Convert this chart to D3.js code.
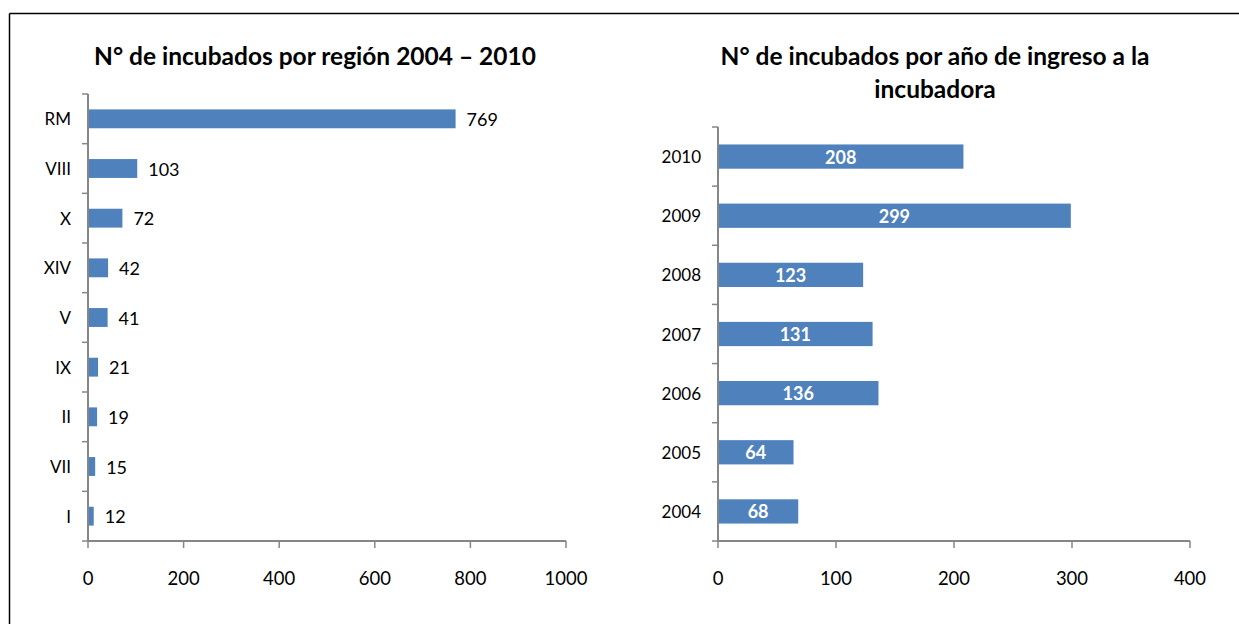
<!DOCTYPE html>
<html><head><meta charset="utf-8">
<script src="https://cdn.jsdelivr.net/npm/d3@7"></script>
<style>
html,body{margin:0;padding:0;background:#fff;}
svg{display:block;font-family:Lato,"Open Sans",sans-serif;}
</style></head>
<body>
<svg id="c" width="1239" height="624"></svg>
<script>
const regions = ["RM","VIII","X","XIV","V","IX","II","VII","I"];
const regionValues = [769,103,72,42,41,21,19,15,12];
const regionTicks = [0,200,400,600,800,1000];
const years = ["2010","2009","2008","2007","2006","2005","2004"];
const yearValues = [208,299,123,131,136,64,68];
const yearTicks = [0,100,200,300,400];
const title1 = "N° de incubados por región 2004 – 2010";
const title2 = ["N° de incubados por año de ingreso a la","incubadora"];

const svg = d3.select("#c");
const barColor = "#4F81BD", axisColor = "#868686";

// frame
svg.append("line").attr("x1",9.5).attr("x2",1239).attr("y1",13.5).attr("y2",13.5).attr("stroke","#000").attr("stroke-width",1.5);
svg.append("line").attr("x1",9.5).attr("x2",9.5).attr("y1",13.5).attr("y2",624).attr("stroke","#000").attr("stroke-width",1.5);

function chart(opt){
  const g = svg.append("g");
  const x = d3.scaleLinear().domain(opt.domain).range([opt.x0, opt.x1]);
  const y = d3.scaleBand().domain(opt.cats).range([opt.y0, opt.y1]).paddingInner(opt.pad).paddingOuter(opt.pad/2);
  const yb = d3.scaleBand().domain(opt.cats).range([opt.y0, opt.y1]);
  // bars
  g.selectAll("rect.bar").data(opt.cats).join("rect")
    .attr("x", x(0)).attr("y", d=>y(d))
    .attr("width", (d,i)=>x(opt.vals[i])-x(0)).attr("height", y.bandwidth())
    .attr("fill", barColor);
  // labels
  if(opt.inside){
    g.selectAll("text.val").data(opt.cats).join("text")
      .attr("x",(d,i)=>(x(0)+x(opt.vals[i]))/2).attr("y",d=>y(d)+y.bandwidth()/2)
      .attr("text-anchor","middle").attr("dominant-baseline","central")
      .attr("fill","#fff").attr("font-weight","bold").attr("font-size",18)
      .text((d,i)=>opt.vals[i]);
  } else {
    g.selectAll("text.val").data(opt.cats).join("text")
      .attr("x",(d,i)=>x(opt.vals[i])+11).attr("y",d=>y(d)+y.bandwidth()/2)
      .attr("text-anchor","start").attr("dominant-baseline","central")
      .attr("fill","#000").attr("font-size",18)
      .text((d,i)=>opt.vals[i]);
  }
  // y axis
  g.append("line").attr("x1",x(0)).attr("x2",x(0)).attr("y1",opt.y0).attr("y2",opt.y1).attr("stroke",axisColor).attr("stroke-width",2);
  const bounds = opt.cats.map(d=>yb(d)).concat([opt.y1]);
  g.selectAll("line.yt").data(bounds).join("line")
    .attr("x1",x(0)-6).attr("x2",x(0)).attr("y1",d=>d).attr("y2",d=>d).attr("stroke",axisColor).attr("stroke-width",1.5);
  g.selectAll("text.yl").data(opt.cats).join("text")
    .attr("x",x(0)-17).attr("y",d=>yb(d)+yb.bandwidth()/2)
    .attr("text-anchor","end").attr("dominant-baseline","central")
    .attr("font-size",17).attr("fill","#000").text(d=>d);
  // x axis
  g.append("line").attr("x1",x(0)).attr("x2",opt.x1).attr("y1",opt.y1).attr("y2",opt.y1).attr("stroke",axisColor).attr("stroke-width",2);
  g.selectAll("line.xt").data(opt.ticks).join("line")
    .attr("x1",d=>x(d)).attr("x2",d=>x(d)).attr("y1",opt.y1).attr("y2",opt.y1+7).attr("stroke",axisColor).attr("stroke-width",1.5);
  g.selectAll("text.xl").data(opt.ticks).join("text")
    .attr("x",d=>x(d)).attr("y",opt.y1+44).attr("text-anchor","middle")
    .attr("font-size",18.5).attr("fill","#000").text(d=>d);
  // title
  opt.title.forEach((t,i)=>{
    g.append("text").attr("x",opt.tx).attr("y",opt.ty+i*33).attr("text-anchor","middle")
      .attr("font-weight","bold").attr("font-size",opt.tsize).attr("fill","#000").text(t);
  });
}

chart({cats:regions, vals:regionValues, domain:[0,1000], ticks:regionTicks,
  x0:88, x1:566, y0:94, y1:541, pad:0.62, inside:false, title:[title1], tx:315, ty:65, tsize:24.5});
chart({cats:years, vals:yearValues, domain:[0,400], ticks:yearTicks,
  x0:718, x1:1190, y0:127, y1:541, pad:0.59, inside:true, title:title2, tx:935, ty:65, tsize:24.5});
</script>
</body></html>
